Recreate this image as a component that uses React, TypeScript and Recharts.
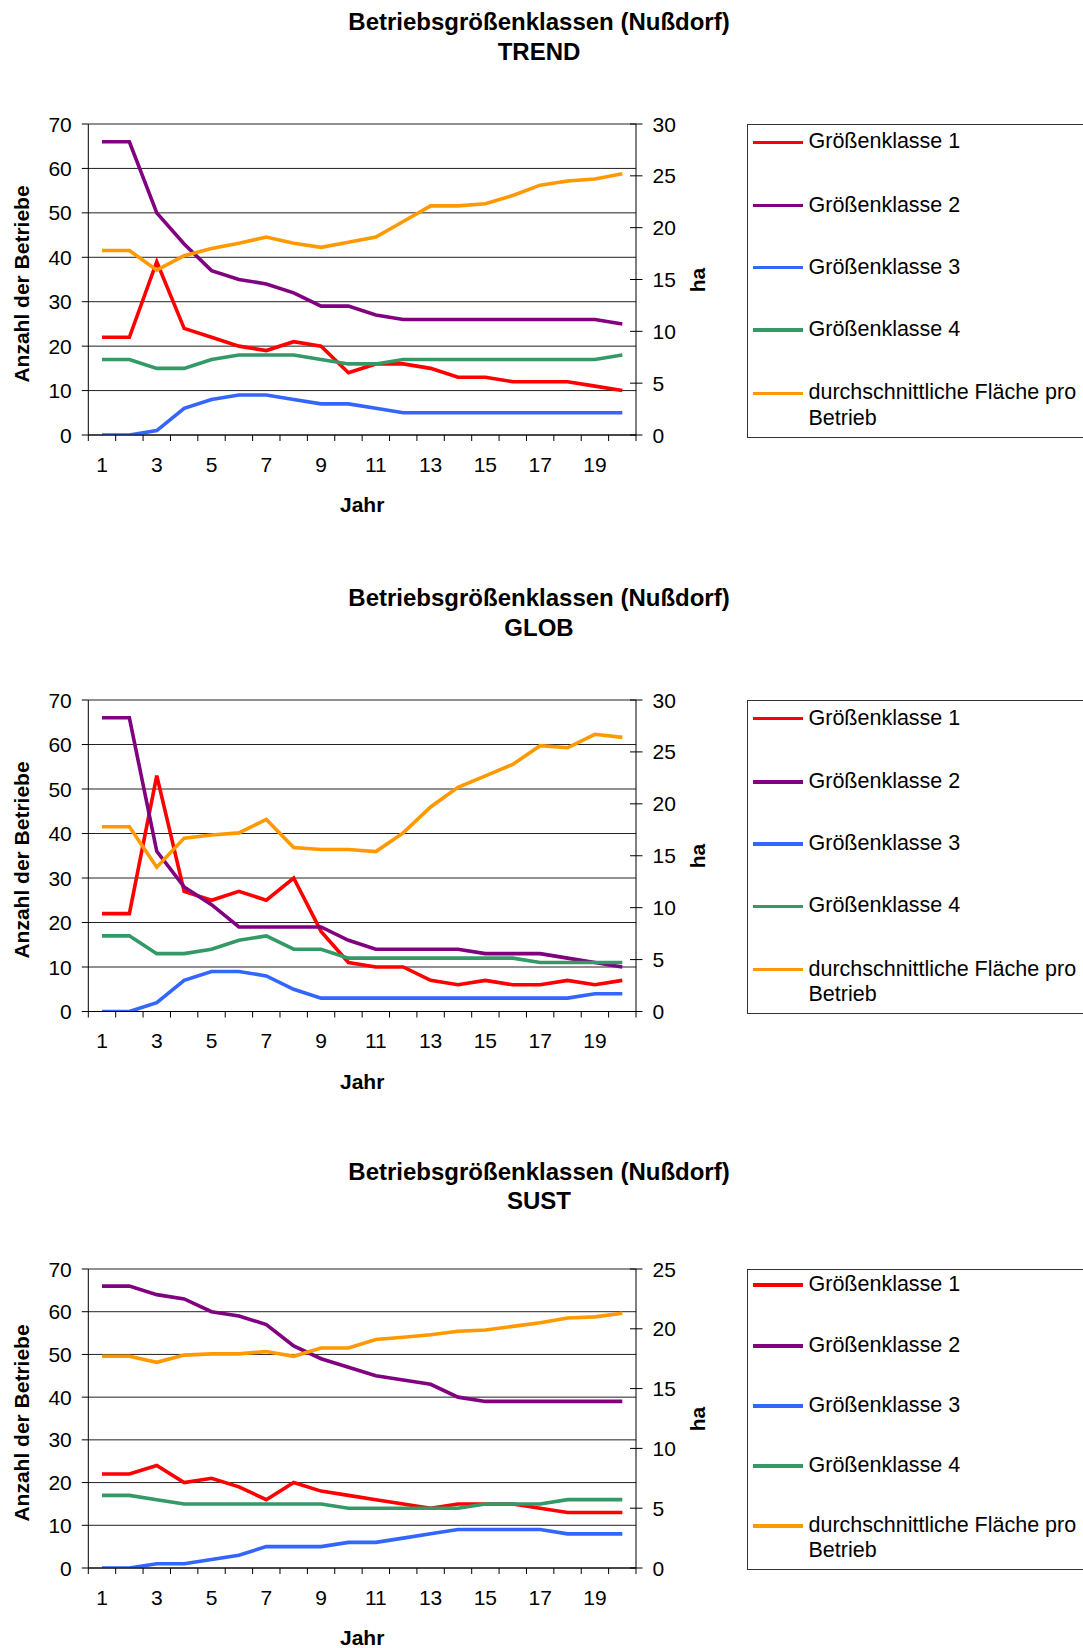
import React from 'react';
import { LineChart, Line, XAxis, YAxis, CartesianGrid } from 'recharts';

// ---------- data ----------
const years = [1, 2, 3, 4, 5, 6, 7, 8, 9, 10, 11, 12, 13, 14, 15, 16, 17, 18, 19, 20];
const yearTickLabels = [1, 3, 5, 7, 9, 11, 13, 15, 17, 19];
const leftTicks = [0, 10, 20, 30, 40, 50, 60, 70];
const rightTicks30 = [0, 5, 10, 15, 20, 25, 30];
const rightTicks25 = [0, 5, 10, 15, 20, 25];

const seriesNames = ['Größenklasse 1', 'Größenklasse 2', 'Größenklasse 3', 'Größenklasse 4', 'durchschnittliche Fläche pro Betrieb'];
const seriesColors = ['#FF0000', '#800080', '#3366FF', '#339966', '#FF9900'];

// TREND
const trendG1 = [22, 22, 39, 24, 22, 20, 19, 21, 20, 14, 16, 16, 15, 13, 13, 12, 12, 12, 11, 10];
const trendG2 = [66, 66, 50, 43, 37, 35, 34, 32, 29, 29, 27, 26, 26, 26, 26, 26, 26, 26, 26, 25];
const trendG3 = [0, 0, 1, 6, 8, 9, 9, 8, 7, 7, 6, 5, 5, 5, 5, 5, 5, 5, 5, 5];
const trendG4 = [17, 17, 15, 15, 17, 18, 18, 18, 17, 16, 16, 17, 17, 17, 17, 17, 17, 17, 17, 18];
const trendArea = [17.8, 17.8, 15.9, 17.3, 18.0, 18.5, 19.1, 18.5, 18.1, 18.6, 19.1, 20.6, 22.1, 22.1, 22.3, 23.1, 24.1, 24.5, 24.7, 25.2];

// GLOB
const globG1 = [22, 22, 53, 27, 25, 27, 25, 30, 18, 11, 10, 10, 7, 6, 7, 6, 6, 7, 6, 7];
const globG2 = [66, 66, 36, 28, 24, 19, 19, 19, 19, 16, 14, 14, 14, 14, 13, 13, 13, 12, 11, 10];
const globG3 = [0, 0, 2, 7, 9, 9, 8, 5, 3, 3, 3, 3, 3, 3, 3, 3, 3, 3, 4, 4];
const globG4 = [17, 17, 13, 13, 14, 16, 17, 14, 14, 12, 12, 12, 12, 12, 12, 12, 11, 11, 11, 11];
const globArea = [17.8, 17.8, 13.9, 16.7, 17.0, 17.2, 18.5, 15.8, 15.6, 15.6, 15.4, 17.2, 19.7, 21.6, 22.7, 23.8, 25.6, 25.4, 26.7, 26.4];

// SUST
const sustG1 = [22, 22, 24, 20, 21, 19, 16, 20, 18, 17, 16, 15, 14, 15, 15, 15, 14, 13, 13, 13];
const sustG2 = [66, 66, 64, 63, 60, 59, 57, 52, 49, 47, 45, 44, 43, 40, 39, 39, 39, 39, 39, 39];
const sustG3 = [0, 0, 1, 1, 2, 3, 5, 5, 5, 6, 6, 7, 8, 9, 9, 9, 9, 8, 8, 8];
const sustG4 = [17, 17, 16, 15, 15, 15, 15, 15, 15, 14, 14, 14, 14, 14, 15, 15, 15, 16, 16, 16];
const sustArea = [17.7, 17.7, 17.2, 17.8, 17.9, 17.9, 18.1, 17.7, 18.4, 18.4, 19.1, 19.3, 19.5, 19.8, 19.9, 20.2, 20.5, 20.9, 21.0, 21.3];

const titleLine1 = 'Betriebsgrößenklassen (Nußdorf)';
const scenarioNames = ['TREND', 'GLOB', 'SUST'];

// ---------- layout ----------
const FONT = '"Liberation Sans", Arial, Helvetica, sans-serif';
const PLOT_LEFT = 88.3;
const PLOT_RIGHT = 636;
const PAGE_W = 1083;

const buildRows = (g1: number[], g2: number[], g3: number[], g4: number[], area: number[]) =>
  years.map((y, i) => ({ x: y, g1: g1[i], g2: g2[i], g3: g3[i], g4: g4[i], area: area[i] }));

const panels = [
  {
    name: scenarioNames[0], rows: buildRows(trendG1, trendG2, trendG3, trendG4, trendArea),
    plotTop: 124, plotBottom: 435, titleY: [22, 51.5], rightTicks: rightTicks30, rightMax: 30,
    legendTop: 124, legendBottom: 437.5, entryY: [18.3, 81.7, 143.7, 206, 269.3], secondLine: 25.7,
  },
  {
    name: scenarioNames[1], rows: buildRows(globG1, globG2, globG3, globG4, globArea),
    plotTop: 700, plotBottom: 1011.5, titleY: [598, 627.7], rightTicks: rightTicks30, rightMax: 30,
    legendTop: 700.3, legendBottom: 1013.6, entryY: [18.3, 81.7, 143.7, 206, 269.3], secondLine: 25.7,
  },
  {
    name: scenarioNames[2], rows: buildRows(sustG1, sustG2, sustG3, sustG4, sustArea),
    plotTop: 1269.3, plotBottom: 1568.3, titleY: [1171.5, 1201], rightTicks: rightTicks25, rightMax: 25,
    legendTop: 1268.5, legendBottom: 1570, entryY: [16.5, 77.5, 137.5, 197.5, 257.5], secondLine: 24.5,
  },
];

const boundaries = [...years.map((y) => y - 0.5), years[years.length - 1] + 0.5];
const xTicks = [...boundaries, ...yearTickLabels].sort((a, b) => a - b);

const XTick = (props: any) => {
  const { x, y, payload } = props;
  const v = payload.value;
  if (v % 1 !== 0) {
    return <line x1={x} x2={x} y1={y} y2={y + 6} stroke="#000" strokeWidth={1} />;
  }
  return (
    <text x={x} y={y + 29} dy="0.36em" textAnchor="middle" fontSize={21} fontFamily={FONT} fill="#000">
      {v}
    </text>
  );
};

const LeftTick = (props: any) => {
  const { x, y, payload } = props;
  return (
    <g>
      <line x1={x - 6.5} x2={x} y1={y} y2={y} stroke="#000" strokeWidth={1} />
      <text x={x - 16.5} y={y} dy="0.36em" textAnchor="end" fontSize={21} fontFamily={FONT} fill="#000">
        {payload.value}
      </text>
    </g>
  );
};

const RightTick = (props: any) => {
  const { x, y, payload } = props;
  return (
    <g>
      <line x1={x - 6} x2={x + 6.5} y1={y} y2={y} stroke="#000" strokeWidth={1} />
      <text x={x + 16.5} y={y} dy="0.36em" textAnchor="start" fontSize={21} fontFamily={FONT} fill="#000">
        {payload.value}
      </text>
    </g>
  );
};

const centered = (x: number, y: number, extra: React.CSSProperties = {}): React.CSSProperties => ({
  position: 'absolute',
  left: x,
  top: y,
  transform: 'translate(-50%, -50%)',
  whiteSpace: 'nowrap',
  lineHeight: 1,
  fontFamily: FONT,
  color: '#000',
  ...extra,
});

const Panel = ({ p }: { p: (typeof panels)[number] }) => {
  const top = p.plotTop - 20;
  const plotH = p.plotBottom - p.plotTop;
  const height = plotH + 20 + 30 + 30;
  const midY = (p.plotTop + p.plotBottom) / 2;
  const midX = (PLOT_LEFT + PLOT_RIGHT) / 2;
  const dataKeys = ['g1', 'g2', 'g3', 'g4', 'area'];
  return (
    <>
      <div style={centered(539, p.titleY[0], { fontSize: 24, fontWeight: 'bold' })}>{titleLine1}</div>
      <div style={centered(539, p.titleY[1], { fontSize: 24, fontWeight: 'bold' })}>{p.name}</div>

      <div style={{ position: 'absolute', left: 0, top }}>
        <LineChart
          width={PAGE_W}
          height={height}
          data={p.rows}
          margin={{ top: 20, left: PLOT_LEFT - 60, right: PAGE_W - PLOT_RIGHT - 60, bottom: 30 }}
        >
          <CartesianGrid horizontal vertical={false} stroke="#222" strokeWidth={1} yAxisId="left" xAxisId="x" />
          <XAxis
            xAxisId="x"
            dataKey="x"
            type="number"
            domain={[0.5, 20.5]}
            ticks={xTicks}
            interval={0}
            tickSize={0}
            tickMargin={0}
            tickLine={false}
            tick={<XTick />}
            axisLine={{ stroke: '#000', strokeWidth: 1 }}
            height={30}
            allowDataOverflow
          />
          <YAxis
            yAxisId="left"
            orientation="left"
            domain={[0, 70]}
            ticks={leftTicks}
            interval={0}
            tickSize={0}
            tickMargin={0}
            tickLine={false}
            tick={<LeftTick />}
            axisLine={{ stroke: '#000', strokeWidth: 1 }}
            width={60}
            allowDataOverflow
          />
          <YAxis
            yAxisId="right"
            orientation="right"
            domain={[0, p.rightMax]}
            ticks={p.rightTicks}
            interval={0}
            tickSize={0}
            tickMargin={0}
            tickLine={false}
            tick={<RightTick />}
            axisLine={{ stroke: '#000', strokeWidth: 1 }}
            width={60}
            allowDataOverflow
          />
          {dataKeys.map((k, i) => (
            <Line
              key={k}
              xAxisId="x"
              yAxisId={k === 'area' ? 'right' : 'left'}
              type="linear"
              dataKey={k}
              name={seriesNames[i]}
              stroke={seriesColors[i]}
              strokeWidth={3.6}
              dot={false}
              activeDot={false}
              isAnimationActive={false}
            />
          ))}
        </LineChart>
      </div>

      <div style={centered(21, midY + 4, { fontSize: 21, fontWeight: 'bold', transform: 'translate(-50%, -50%) rotate(-90deg)' })}>
        Anzahl der Betriebe
      </div>
      <div style={centered(697, midY, { fontSize: 21, fontWeight: 'bold', transform: 'translate(-50%, -50%) rotate(-90deg)' })}>
        ha
      </div>
      <div style={centered(midX, p.plotBottom + 69, { fontSize: 21, fontWeight: 'bold' })}>Jahr</div>

      <div
        style={{
          position: 'absolute',
          left: 746.5,
          top: p.legendTop,
          width: 380,
          height: p.legendBottom - p.legendTop,
          border: '1px solid #333',
          boxSizing: 'border-box',
        }}
      />
      {seriesNames.map((n, i) => {
        const cy = p.legendTop + p.entryY[i];
        const lines = i === 4 ? ['durchschnittliche Fläche pro', 'Betrieb'] : [n];
        return (
          <React.Fragment key={n}>
            <div
              style={{
                position: 'absolute',
                left: 753,
                top: cy - 1.75,
                width: 50,
                height: 3.5,
                background: seriesColors[i],
              }}
            />
            {lines.map((t, j) => (
              <div
                key={t}
                style={{
                  position: 'absolute',
                  left: 808.5,
                  top: cy + j * p.secondLine,
                  transform: 'translateY(-50%)',
                  whiteSpace: 'nowrap',
                  lineHeight: 1,
                  fontFamily: FONT,
                  fontSize: 21.5,
                  color: '#000',
                }}
              >
                {t}
              </div>
            ))}
          </React.Fragment>
        );
      })}
    </>
  );
};

export default function App() {
  return (
    <div
      style={{
        position: 'absolute',
        left: 0,
        top: 0,
        width: PAGE_W,
        height: 1648,
        overflow: 'hidden',
        background: '#fff',
      }}
    >
      {panels.map((p) => (
        <Panel key={p.name} p={p} />
      ))}
    </div>
  );
}
